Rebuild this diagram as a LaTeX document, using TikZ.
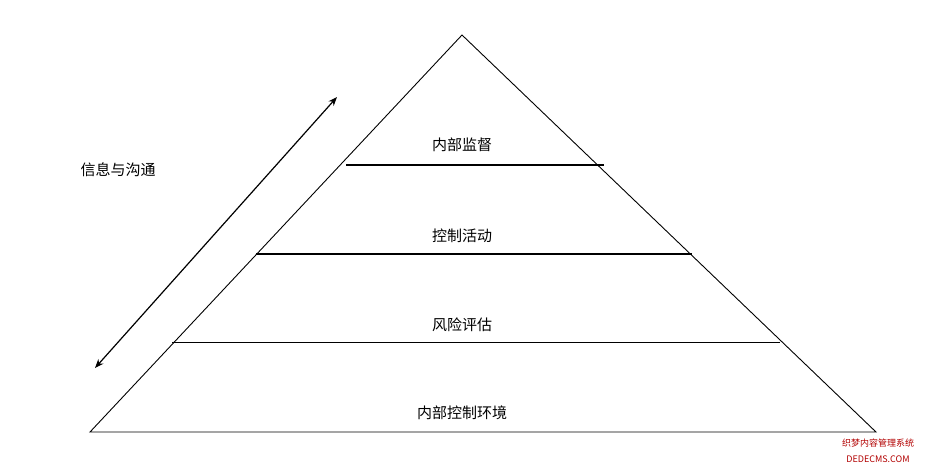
\documentclass[tikz,border=0pt]{standalone}
\usepackage{fontspec}
\newfontfamily\cjk{Noto Sans CJK SC}
\usetikzlibrary{arrows.meta}
\begin{document}
\begin{tikzpicture}[x=1pt,y=-1pt,font=\cjk\fontsize{15}{17}\selectfont,line width=0.9pt]
\useasboundingbox (0,0) rectangle (934,472);
\draw (462,35) -- (876,432) -- (90,432) -- cycle;
\draw[line width=1.4pt] (346,165) -- (604,165);
\draw[line width=1.4pt] (256,254) -- (692,254);
\draw (172,342) -- (780,342);
\draw (462,145) node (jd){内部监督};
\draw (462,236) node (hd){控制活动};
\draw (462,325) node (pg){风险评估};
\draw (462,413) node (hj){内部控制环境};
\draw (118,170) node (xx){信息与沟通};
\coordinate (top) at (337,97);
\coordinate (bot) at (95,368);
\draw[line width=1.2pt,{Stealth[length=9pt,width=7pt]}-{Stealth[length=9pt,width=7pt]}] (bot) -- (top);
\draw (878,443) node[font=\cjk\fontsize{9}{10}\selectfont,red!70!black] (wm1){织梦内容管理系统};
\draw (878,459) node[font=\cjk\fontsize{9}{10}\selectfont,red!70!black] (wm2){DEDECMS.COM};
\end{tikzpicture}
\end{document}
